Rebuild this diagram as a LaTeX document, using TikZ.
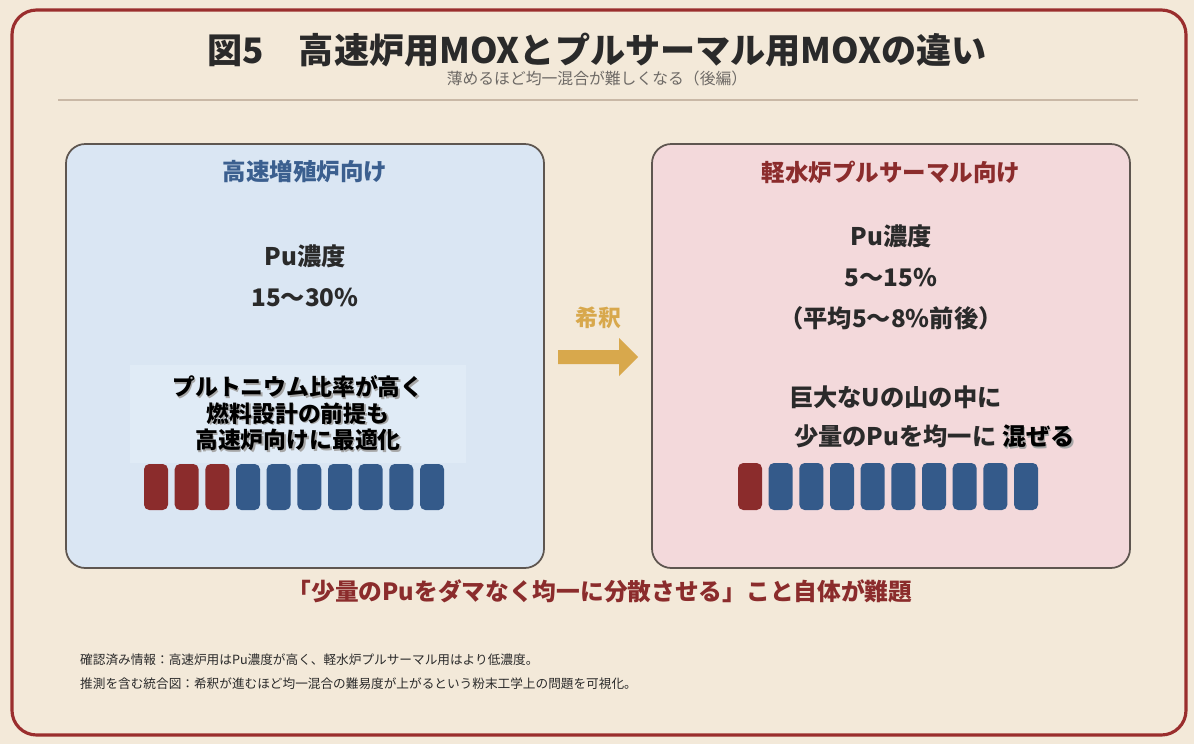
\documentclass[tikz,border=0pt]{standalone}
\usepackage{fontspec}
\setmainfont{Noto Sans CJK JP}
\usetikzlibrary{positioning}

\definecolor{cream}{HTML}{F3E9D9}
\definecolor{framered}{HTML}{9A2E2E}
\definecolor{bluebox}{HTML}{DAE6F3}
\definecolor{pinkbox}{HTML}{F3D9DB}
\definecolor{notebg}{HTML}{E0EBF6}
\definecolor{boxline}{HTML}{5E5650}
\definecolor{pured}{HTML}{8B2C2C}
\definecolor{ublue}{HTML}{345A8A}
\definecolor{gold}{HTML}{D8A84C}
\definecolor{headblue}{HTML}{3B5F8F}
\definecolor{rulecol}{HTML}{C9B8A6}
\definecolor{txt}{HTML}{2A2A2A}
\definecolor{subgrey}{HTML}{6E6A66}

% text with a soft drop shadow
\newcommand{\shadowed}[1]{\makebox[0pt][l]{\hspace{0.9pt}\raisebox{-0.9pt}{\textcolor{black!35}{#1}}}#1}

\begin{document}
\begin{tikzpicture}[x=0.02cm, y=-0.02cm,
    panel/.style={draw=boxline, line width=1pt, rounded corners=11pt},
    head/.style={font={\fontsize{13.4pt}{16pt}\selectfont\bfseries}},
    big/.style={font={\fontsize{13.8pt}{16pt}\selectfont\bfseries}, text=txt},
    note/.style={font={\fontsize{13pt}{16pt}\selectfont\bfseries}, text=black},
    foot/.style={font={\fontsize{7.2pt}{9pt}\selectfont}, text=txt, anchor=west},
    pellet/.style={rounded corners=3pt}]
    % page and frame
    \fill[cream] (0,0) rectangle (1194,744);
    \useasboundingbox (0,0) rectangle (1194,744);
    \draw[framered, line width=1.8pt, rounded corners=14pt] (12,10) rectangle (1186,735);
    \node[font={\fontsize{20pt}{24pt}\selectfont\bfseries}, text=txt] (title) at (597,50)
        {図5　高速炉用MOXとプルサーマル用MOXの違い};
    \node[font={\fontsize{9pt}{11pt}\selectfont}, text=subgrey] (subtitle) at (597,78)
        {薄めるほど均一混合が難しくなる（後編）};
    \draw[rulecol, line width=0.8pt] (58,100) -- (1138,100);

    % fast breeder side
    \draw[panel, fill=bluebox] (66,144) rectangle (544,568);
    \node[head, text=headblue] (fbrhead) at (305,172) {高速増殖炉向け};
    \node[big] (fbrpu) at (305,256) {Pu濃度};
    \node[big] (fbrval) at (305,297) {15〜30\%};
    \fill[notebg] (130,365) rectangle (466,463);
    \node[note, align=center] (fbrnote) at (298,414)
        {\shadowed{プルトニウム比率が高く}\\[-1pt]\shadowed{燃料設計の前提も}\\[-1pt]\shadowed{高速炉向けに最適化}};
    \foreach \c [count=\i from 0] in {pured,pured,pured,ublue,ublue,ublue,ublue,ublue,ublue,ublue}
        \fill[\c, pellet] (144+\i*30.67,464) rectangle ++(24,46);

    % dilution arrow
    \node[font={\fontsize{13pt}{16pt}\selectfont\bfseries}, text=gold] (dilute) at (598,318) {希釈};
    \fill[gold] (558,350) -- (619,350) -- (619,338) -- (638,357) -- (619,376)
        -- (619,364) -- (558,364) -- cycle;

    % light water reactor side
    \draw[panel, fill=pinkbox] (652,144) rectangle (1130,568);
    \node[head, text=pured] (lwrhead) at (891,172) {軽水炉プルサーマル向け};
    \node[big] (lwrpu) at (891,236) {Pu濃度};
    \node[big] (lwrval) at (891,277) {5〜15\%};
    \node[big] (lwravg) at (891,318) {（平均5〜8\%前後）};
    \node[big, anchor=west] (lwrmix1) at (783,397) {巨大なUの山の中に};
    \node[big, anchor=west] (lwrmix2) at (788,437) {少量のPuを均一に\ \textcolor{black}{\shadowed{混ぜる}}};
    \foreach \c [count=\i from 0] in {pured,ublue,ublue,ublue,ublue,ublue,ublue,ublue,ublue,ublue}
        \fill[\c, pellet] (738+\i*30.67,463) rectangle ++(24,47);

    % conclusion and notes
    \node[font={\fontsize{13.5pt}{16pt}\selectfont\bfseries}, text=pured] (issue) at (600,591)
        {「少量のPuをダマなく均一に分散させる」こと自体が難題};
    \node[foot] (fact) at (74,660) {確認済み情報：高速炉用はPu濃度が高く、軽水炉プルサーマル用はより低濃度。};
    \node[foot] (guess) at (74,684) {推測を含む統合図：希釈が進むほど均一混合の難易度が上がるという粉末工学上の問題を可視化。};
\end{tikzpicture}
\end{document}
